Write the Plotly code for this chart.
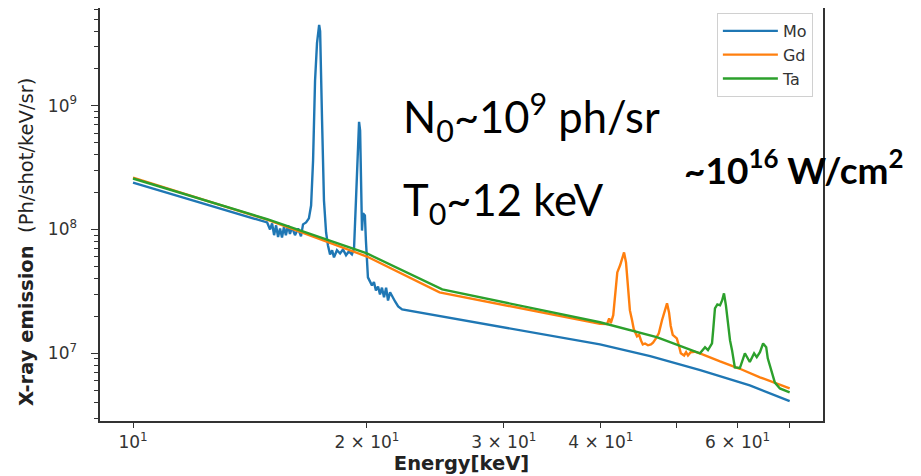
import plotly.graph_objects as go

# ---------------- data ----------------
mo_energy = [10, 12, 14.0, 14.88, 15.01, 15.10, 15.19, 15.28, 15.37, 15.46,
             15.55, 15.64, 15.73, 15.83, 15.92, 16.02, 16.16, 16.31, 16.45, 16.55,
             16.70, 16.84, 16.95, 17.05, 17.15, 17.25, 17.36, 17.41, 17.51, 17.61,
             17.72, 17.82, 17.93, 18.04, 18.14, 18.30, 18.47, 18.63, 18.80, 18.96,
             19.13, 19.25, 19.36, 19.48, 19.54, 19.60, 19.65, 19.71, 19.77, 19.88,
             19.94, 20.00, 20.06, 20.18, 20.30, 20.42, 20.54, 20.67, 20.79, 20.91,
             21.04, 21.17, 21.29, 21.42, 21.55, 21.74, 21.94, 22.20, 39.9, 46.3,
             53.7, 62.2, 70]
mo_flux = [2.39e8, 1.70e8, 1.28e8, 1.14e8, 1.0e8, 1.12e8, 9.0e7, 1.08e8, 8.7e7, 1.02e8,
           8.6e7, 1.05e8, 9.0e7, 1.08e8, 9.2e7, 1.04e8, 9.0e7, 1.02e8, 8.8e7, 1.10e8,
           1.14e8, 1.23e8, 1.56e8, 3.6e8, 1.59e9, 3.2e9, 4.5e9, 4.0e9, 7.6e8, 1.71e8,
           9.46e7, 7.43e7, 6.29e7, 6.8e7, 5.95e7, 6.8e7, 6.4e7, 6.9e7, 6.2e7, 6.65e7,
           6.29e7, 7.03e7, 1.71e8, 5.2e8, 7.4e8, 6.3e8, 1.71e8, 9.8e7, 1.35e8, 1.3e8,
           8.15e7, 5.1e7, 4.1e7, 3.81e7, 3.53e7, 3.76e7, 3.22e7, 3.46e7, 2.99e7, 3.39e7,
           2.83e7, 3.39e7, 2.67e7, 3.11e7, 2.87e7, 2.62e7, 2.39e7, 2.26e7, 1.18e7, 9.5e6,
           7.3e6, 5.5e6, 4.1e6]

gd_energy = [10, 14.88, 20, 24.8, 39.9, 40.74, 41.0, 41.2, 41.5, 41.75,
             42.0, 42.35, 42.6, 42.85, 43.1, 43.4, 43.6, 43.88, 44.1, 44.53,
             44.8, 45.06, 45.3, 45.6, 46.0, 46.4, 46.69, 47.1, 47.5, 47.95,
             48.4, 48.67, 48.96, 49.2, 49.5, 49.84, 50.1, 50.4, 50.7, 51.2,
             51.5, 51.79, 52.2, 52.8, 53.66, 56.95, 60.4, 64.1, 70]
gd_flux = [2.62e8, 1.2e8, 6.05e7, 3.1e7, 1.73e7, 1.72e7, 1.91e7, 1.75e7, 2.03e7, 3.22e7,
           4.5e7, 5.14e7, 5.84e7, 6.52e7, 5.42e7, 3.22e7, 2.22e7, 1.85e7, 1.57e7, 1.37e7,
           1.41e7, 1.27e7, 1.18e7, 1.20e7, 1.16e7, 1.18e7, 1.22e7, 1.32e7, 1.45e7, 1.85e7,
           2.31e7, 2.53e7, 2.14e7, 1.67e7, 1.41e7, 1.35e7, 1.32e7, 1.16e7, 1.0e7, 9.6e6,
           1.02e7, 9.6e6, 1.02e7, 1.03e7, 1.0e7, 8.6e6, 7.5e6, 6.4e6, 5.2e6]

ta_energy = [10, 14.88, 20, 25.0, 39.9, 47.2, 53.66, 54.47, 54.95, 55.61,
             55.8, 56.1, 56.5, 56.95, 57.3, 57.62, 57.95, 58.31, 58.66, 59.01,
             59.5, 60.4, 61.3, 62.2, 63.0, 63.5, 64.1, 64.7, 65.3, 65.6,
             66.4, 67.0, 68.0, 70]
ta_flux = [2.58e8, 1.21e8, 6.4e7, 3.28e7, 1.78e7, 1.35e7, 1.0e7, 1.12e7, 1.06e7, 1.20e7,
           1.53e7, 2.31e7, 2.48e7, 2.44e7, 2.67e7, 3.05e7, 2.44e7, 1.75e7, 1.27e7, 1.06e7,
           7.7e6, 7.6e6, 1.0e7, 8.5e6, 1.0e7, 9.3e6, 1.02e7, 1.2e7, 1.12e7, 9.1e6,
           6.9e6, 5.8e6, 5.2e6, 4.84e6]

series_names = ["Mo", "Gd", "Ta"]
series_colors = ["#1f77b4", "#ff7f0e", "#2ca02c"]

x_tick_vals = [10, 20, 30, 40, 50, 60, 70]
x_tick_text = ["10<sup>1</sup>", "2 \u00d7 10<sup>1</sup>", "3 \u00d7 10<sup>1</sup>",
               "4 \u00d7 10<sup>1</sup>", "", "6 \u00d7 10<sup>1</sup>", ""]
y_tick_vals = [1e7, 1e8, 1e9]
y_tick_text = ["10<sup>7</sup>\u00a0\u00a0", "10<sup>8</sup>\u00a0\u00a0", "10<sup>9</sup>\u00a0\u00a0"]
y_minor_vals = [m * 10 ** e for e in (6, 7, 8, 9) for m in range(2, 10)]

# ---------------- figure ----------------
fig = go.Figure()
for name, xs, ys, col in zip(series_names,
                             [mo_energy, gd_energy, ta_energy],
                             [mo_flux, gd_flux, ta_flux],
                             series_colors):
    fig.add_trace(go.Scatter(x=xs, y=ys, mode="lines", name=name,
                             line=dict(color=col, width=2.4)))

axis_font = dict(family="DejaVu Sans", size=17, color="#333333")

fig.update_layout(
    width=913, height=468,
    margin=dict(l=92, r=98, t=0, b=55),
    paper_bgcolor="white", plot_bgcolor="white",
    showlegend=True,
    legend=dict(x=0.986, y=0.988, xanchor="right", yanchor="top",
                itemwidth=55,
                bgcolor="rgba(255,255,255,0.9)", bordercolor="#d0d0d0", borderwidth=1,
                font=dict(family="DejaVu Sans", size=16, color="#333333")),
    xaxis=dict(type="log", range=[0.9575, 1.888], automargin=False,
               tickmode="array", tickvals=x_tick_vals, ticktext=x_tick_text,
               ticks="outside", ticklen=5, tickcolor="#333333", tickwidth=1,
               showline=True, linecolor="#333333", linewidth=1.5, mirror=True,
               showgrid=False, zeroline=False, tickfont=axis_font,
               title=dict(text="<b>Energy[keV]</b>", standoff=1,
                          font=dict(family="DejaVu Sans", size=19.5, color="#222222"))),
    yaxis=dict(type="log", range=[6.453, 9.789], automargin=False,
               tickmode="array", tickvals=y_tick_vals, ticktext=y_tick_text,
               ticks="outside", ticklen=7, tickcolor="#333333", tickwidth=1,
               minor=dict(tickmode="array", tickvals=y_minor_vals, ticks="outside",
                          ticklen=4, tickcolor="#333333", tickwidth=1, showgrid=False),
               showline=True, linecolor="#333333", linewidth=1.5, mirror=True,
               showgrid=False, zeroline=False, tickfont=axis_font),
)

# y-axis label (placed as in the reference, slightly below the axis centre)
fig.add_annotation(xref="paper", yref="paper", x=(27 - 100) / 723, y=(421 - 242) / 413,
                   xanchor="center", yanchor="middle", textangle=-90, showarrow=False,
                   text="<b>X-ray emission</b>\u00a0 (Ph/shot/keV/sr)",
                   font=dict(family="DejaVu Sans", size=19.5, color="#222222"))

fig.add_annotation(xref="paper", yref="paper", x=0.417, y=0.738, xanchor="left", yanchor="middle",
                   text="N<sub>0</sub>~10<sup>9</sup> ph/sr", showarrow=False,
                   font=dict(family="Lato", size=43.5, color="black"))
fig.add_annotation(xref="paper", yref="paper", x=0.417, y=0.531, xanchor="left", yanchor="middle",
                   text="T<sub>0</sub>~12 keV", showarrow=False,
                   font=dict(family="Lato", size=43.5, color="black"))
fig.add_annotation(xref="paper", yref="paper", x=0.805, y=0.616, xanchor="left", yanchor="middle",
                   text="<b>~10<sup>16</sup> W/cm<sup>2</sup></b>", showarrow=False,
                   font=dict(family="Lato", size=37, color="black"))

fig.add_shape(type="rect", xref="paper", yref="paper", x0=(915 - 100) / 723, x1=1.2, y0=-0.3, y1=1.1,
              fillcolor="#e4e4e4", line=dict(width=0), layer="above")

fig.write_html("out.html")
